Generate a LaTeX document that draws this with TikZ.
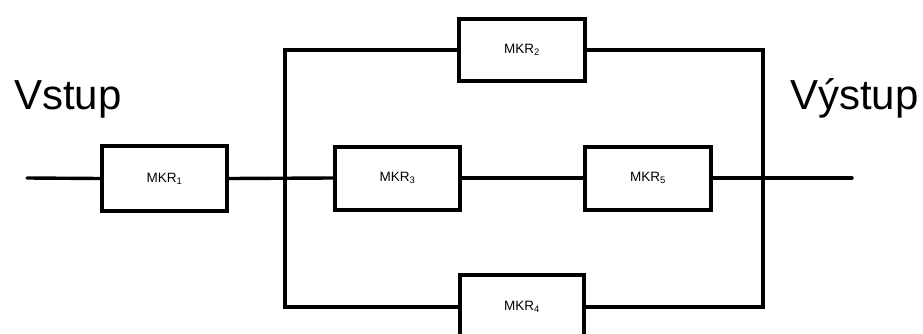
\documentclass[tikz,border=0pt]{standalone}
\usepackage{fontspec}
\setmainfont{Liberation Sans}
\begin{document}
\begin{tikzpicture}[x=1pt,y=-1pt,
  blk/.style={draw, line width=4pt, rectangle, inner sep=0pt,
    font=\fontsize{13.5}{16}\selectfont},
  wire/.style={line width=3.4pt, line cap=round},
  big/.style={font=\fontsize{42}{50}\selectfont, inner sep=0pt, anchor=base west}]
  \useasboundingbox (0,0) rectangle (923,334);

  % blocks
  \node[blk, minimum width=125pt, minimum height=65pt] (m1) at (164.5,178.5) {MKR\textsubscript{1}};
  \node[blk, minimum width=126pt, minimum height=62pt] (m2) at (522,50) {MKR\textsubscript{2}};
  \node[blk, minimum width=125pt, minimum height=63pt] (m3) at (397.5,178) {MKR\textsubscript{3}};
  \node[blk, minimum width=124pt, minimum height=64pt] (m4) at (522,307) {MKR\textsubscript{4}};
  \node[blk, minimum width=126pt, minimum height=63pt] (m5) at (648,178) {MKR\textsubscript{5}};

  % captions
  \node[big] (vin) at (14,110) {Vstup};
  \node[big] (vout) at (790,110) {Výstup};

  % wire end points and bus positions
  \coordinate (in) at (27,178);
  \coordinate (out) at (852,178);
  \coordinate (lbus) at (285,178);
  \coordinate (rbus) at (763,178);

  % wiring
  \draw[wire] (in) -- (m1.west);
  \draw[wire] (m1.east) -- (m3.west);
  \draw[wire] (m3.east) -- (m5.west);
  \draw[wire] (m5.east) -- (out);
  \draw[wire, line cap=butt] (m2.west) -| (lbus) |- (m4.west);
  \draw[wire, line cap=butt] (m2.east) -| (rbus) |- (m4.east);
\end{tikzpicture}
\end{document}
